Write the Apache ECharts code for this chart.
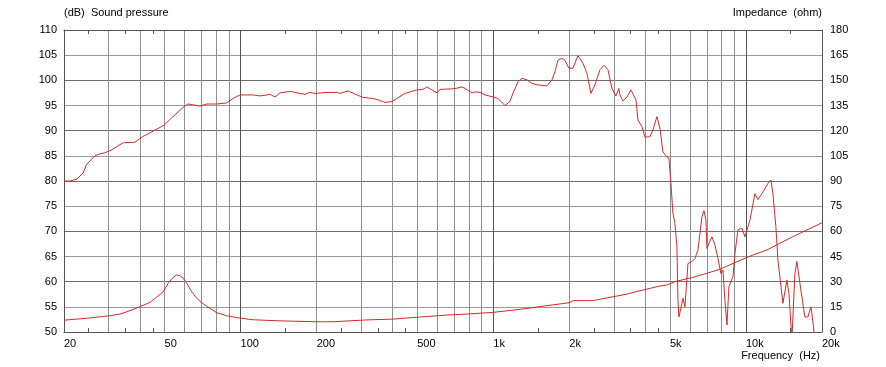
<!DOCTYPE html>
<html><head><meta charset="utf-8">
<script src="https://cdn.jsdelivr.net/npm/echarts@6/dist/echarts.min.js"></script>
<style>html,body{margin:0;padding:0;background:#fff}#c{width:886px;height:367px}</style>
</head><body><div id="c"></div><script>
// Sound pressure (dB) vs frequency (Hz)
const splFreq = [20,21.2,22.5,23.8,24.5,26.5,27.7,29,30.4,34.3,38.1,40.9,43.9,49.8,54,59.8,61.9,69,73.6,80.3,88,93.3,99.5,112,119.6,131,136.9,143,157,172,180,188,197,220,241,247,266,289,305,334,356,373,397,416,447,468,499,527,546,572,599,615,686,712,725,752,773,824,846,886,927,997,1044,1113,1164,1196,1252,1299,1359,1422,1489,1630,1707,1754,1803,1870,1921,1993,2067,2163,2264,2348,2435,2525,2644,2742,2844,2949,3058,3143,3172,3260,3381,3506,3671,3738,3876,3984,4169,4284,4443,4566,4693,4867,4958,5048,5140,5235,5332,5381,5430,5580,5632,5736,5895,6114,6285,6458,6698,6822,6947,7010,7138,7336,7540,7750,7962,8110,8258,8410,8564,8882,9046,9296,9640,9908,10370,10854,11154,11570,12218,12556,12786,13140,13382,14006,14526,14792,15204,15450,15624,15912,16352,17112,17588,18076,18240,18748];
const splDb = [80.0,80.0,80.4,81.6,83.2,85.0,85.4,85.6,86.0,87.6,87.7,88.8,89.6,91.1,92.8,94.8,95.3,94.9,95.3,95.3,95.5,96.4,97.1,97.1,96.9,97.2,96.7,97.5,97.8,97.4,97.2,97.6,97.4,97.6,97.6,97.4,97.9,97.1,96.6,96.4,96.0,95.6,95.8,96.4,97.4,97.7,98.1,98.2,98.7,98.1,97.5,98.2,98.3,98.4,98.1,98.7,98.4,97.5,97.7,97.6,97.1,96.7,96.4,95.0,95.8,97.4,99.7,100.4,100.1,99.4,99.1,98.9,100.1,101.7,104.0,104.4,104.0,102.4,102.4,104.9,103.4,101.4,97.4,99.1,102.1,103.0,102.1,98.4,96.9,98.4,97.1,95.9,96.7,98.1,96.1,92.1,90.8,88.7,88.8,90.1,92.8,90.5,85.8,84.8,84.5,79.5,73.6,71.6,66.9,56.3,53.0,55.7,56.7,55.0,63.6,64.0,64.6,66.3,72.9,74.1,72.2,66.6,67.6,68.9,67.3,64.6,61.6,62.3,56.3,51.4,59.0,61.0,65.6,70.3,70.6,68.9,72.2,77.5,76.3,77.5,79.5,80.2,77.5,70.9,64.3,55.7,60.3,57.7,48.5,48.5,61.6,64.0,59.7,53.0,53.0,55.0,53.7,48.5];
// Impedance (ohm) vs frequency (Hz)
const impFreq = [20,20.55,24.7,30.4,33.3,36.5,40,43.8,46.5,49.4,51.7,54.1,55.8,57.5,59.3,61.2,64,67,70.1,75.6,80.4,88.1,99.4,112,139,200,232,316,401,499,656,787,997,1275,1630,2011,2067,2481,2976,3381,3806,4566,4867,5235,6169,7010,7890,9212,10661,12107,13629,15341,17425,20000];
const impOhm = [7.0,7.2,8.2,9.7,10.7,12.7,15.1,17.7,20.7,24.0,29.0,32.6,34.0,33.6,32.0,29.0,24.0,20.1,17.5,14.1,11.5,9.7,8.3,7.3,6.7,6.1,6.1,7.2,7.7,8.8,10.1,10.7,11.7,13.5,15.7,17.5,18.7,18.7,21.0,22.6,24.6,27.4,28.0,30.0,32.6,35.0,37.4,41.9,45.9,48.9,52.9,56.8,60.8,65.1];
// Axis ticks
const xLabelFreqs = [20,50,100,200,500,1000,2000,5000,10000,20000];
const xLabelTexts = ['20','50','100','200','500','1k','2k','5k','10k','20k'];
const gridFreqs = [20,30,40,50,60,70,80,90,100,200,300,400,500,600,700,800,900,1000,2000,3000,4000,5000,6000,7000,8000,9000,10000,20000];
const decadeFreqs = [100,1000,10000];
const minorTickFreqs = [25,35,45,150,250,350,450,1500,2500,3500,4500,15000];

const L = Math.log10;
const xMin = L(20), xMax = L(20000);
const zip = (fs, vs) => fs.map((f, i) => [L(f), vs[i]]);
const FONT = 'Liberation Sans';
const RED = '#d42a2a';

const baseX = {
  type: 'value', min: xMin, max: xMax, gridIndex: 0,
  axisLine: { show: false }, axisLabel: { show: false },
  axisTick: { show: false }, splitLine: { show: false }
};

const chart = echarts.init(document.getElementById('c'), null, { renderer: 'canvas' });
chart.setOption({
  animation: false,
  backgroundColor: '#ffffff',
  grid: { left: 64, right: 64, top: 30, bottom: 35, containLabel: false },
  xAxis: [
    Object.assign({}, baseX, {
      position: 'bottom',
      axisLine: { show: true, lineStyle: { color: '#555', width: 1 } },
      axisTick: { show: false, customValues: gridFreqs.map(L) },
      splitLine: { show: true, lineStyle: { color: '#8f8f8f', width: 1 } },
      axisLabel: {
        show: true, customValues: xLabelFreqs.map(L), align: 'left', margin: 6,
        color: '#000', fontFamily: FONT, fontSize: 11,
        formatter: v => {
          let best = 0, d = Infinity;
          xLabelFreqs.forEach((f, i) => { const e = Math.abs(L(f) - v); if (e < d) { d = e; best = i; } });
          return xLabelTexts[best];
        }
      }
    }),
    Object.assign({}, baseX, {
      position: 'bottom',
      axisTick: { show: false, customValues: decadeFreqs.map(L) },
      splitLine: { show: true, lineStyle: { color: '#555', width: 1 } }
    }),
    Object.assign({}, baseX, {
      position: 'top',
      axisLine: { show: true, lineStyle: { color: '#555', width: 1 } },
      axisTick: { show: true, inside: true, length: 4, customValues: minorTickFreqs.map(L), lineStyle: { color: '#555' } }
    }),
    Object.assign({}, baseX, {
      position: 'bottom',
      axisTick: { show: true, inside: true, length: 4, customValues: minorTickFreqs.map(L), lineStyle: { color: '#555' } }
    })
  ],
  yAxis: [
    {
      type: 'value', min: 50, max: 110, interval: 5, position: 'left',
      axisLine: { show: true, lineStyle: { color: '#555' } },
      axisTick: { show: false },
      axisLabel: { color: '#000', fontFamily: FONT, fontSize: 11, margin: 7 },
      splitLine: { show: true, lineStyle: { color: ['#6e6e6e', '#9a9a9a'], width: 1 } }
    },
    {
      type: 'value', min: 0, max: 180, interval: 15, position: 'right',
      axisLine: { show: true, lineStyle: { color: '#555' } },
      axisTick: { show: false },
      axisLabel: { color: '#000', fontFamily: FONT, fontSize: 11, margin: 8 },
      splitLine: { show: false }
    }
  ],
  graphic: [
    { type: 'text', left: 64, top: 7, style: { text: '(dB)  Sound pressure', font: '11px "Liberation Sans"', fill: '#000' } },
    { type: 'text', right: 64, top: 7, style: { text: 'Impedance  (ohm)', font: '11px "Liberation Sans"', fill: '#000' } },
    { type: 'text', right: 66, top: 350, style: { text: 'Frequency  (Hz)', font: '11px "Liberation Sans"', fill: '#000' } }
  ],
  series: [
    {
      name: 'Sound pressure', type: 'line', xAxisIndex: 0, yAxisIndex: 0,
      data: zip(splFreq, splDb), showSymbol: false, clip: true,
      lineStyle: { color: RED, width: 1 }, itemStyle: { color: RED }
    },
    {
      name: 'Impedance', type: 'line', xAxisIndex: 0, yAxisIndex: 1,
      data: zip(impFreq, impOhm), showSymbol: false, clip: true,
      lineStyle: { color: RED, width: 1 }, itemStyle: { color: RED }
    }
  ]
});
</script></body></html>
